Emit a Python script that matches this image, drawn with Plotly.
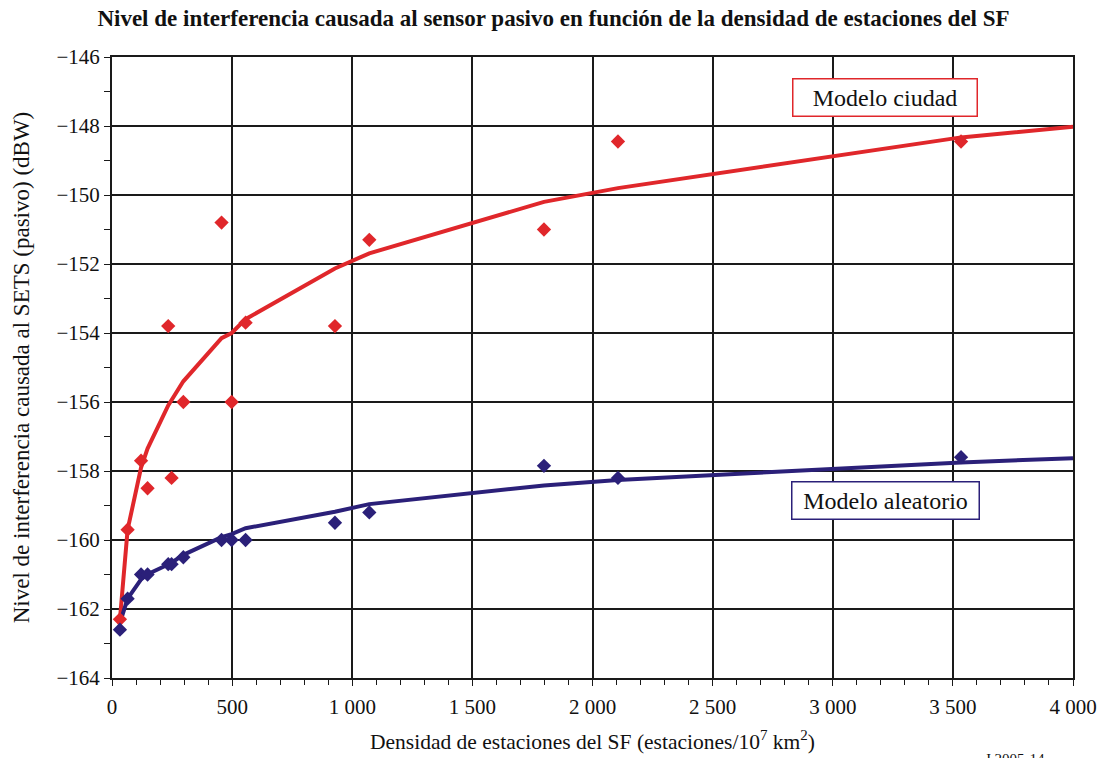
import plotly.graph_objects as go

# Station density (stations per 10^7 km^2) at which interference was computed
densidad = [33, 65, 121, 148, 234, 248, 297, 456, 498, 556, 928, 1071, 1798, 2106, 3534]

# Interference levels (dBW) for each propagation model
ciudad = [-162.3, -159.7, -157.7, -158.5, -153.8, -158.2, -156.0, -150.8, -156.0,
          -153.7, -153.8, -151.3, -151.0, -148.45, -148.45]
aleatorio = [-162.6, -161.7, -161.0, -161.0, -160.7, -160.7, -160.5, -160.0, -160.0,
             -160.0, -159.5, -159.2, -157.85, -158.2, -157.6]

# Trend curves for each model
tendencia_x = [33, 65, 121, 148, 234, 248, 297, 456, 498, 556, 928, 1071, 1798, 2106, 3534, 4000]
tendencia_ciudad = [-162.3, -159.7, -157.9, -157.35, -156.1, -155.95, -155.4, -154.15, -154.0,
                    -153.6, -152.13, -151.69, -150.2, -149.8, -148.33, -148.02]
tendencia_aleatorio = [-162.4, -161.7, -161.14, -160.99, -160.71, -160.66, -160.43, -159.92,
                       -159.83, -159.66, -159.18, -158.96, -158.42, -158.26, -157.75, -157.63]

x_ticks = [0, 500, 1000, 1500, 2000, 2500, 3000, 3500, 4000]
x_labels = ["0", "500", "1 000", "1 500", "2 000", "2 500", "3 000", "3 500", "4 000"]
y_ticks = [-164, -162, -160, -158, -156, -154, -152, -150, -148, -146]
y_labels = ["\u2212164", "\u2212162", "\u2212160", "\u2212158", "\u2212156", "\u2212154",
            "\u2212152", "\u2212150", "\u2212148", "\u2212146"]

ROJO = "#e0272b"
AZUL = "#2b2079"
SERIF = "Liberation Serif, Times New Roman, serif"
INK = "#111111"

fig = go.Figure()

fig.add_trace(go.Scatter(x=tendencia_x, y=tendencia_ciudad, mode="lines",
                         line=dict(color=ROJO, width=4), hoverinfo="skip"))
fig.add_trace(go.Scatter(x=tendencia_x, y=tendencia_aleatorio, mode="lines",
                         line=dict(color=AZUL, width=4), hoverinfo="skip"))
fig.add_trace(go.Scatter(x=densidad, y=ciudad, mode="markers",
                         marker=dict(symbol="diamond", size=11, color=ROJO)))
fig.add_trace(go.Scatter(x=densidad, y=aleatorio, mode="markers",
                         marker=dict(symbol="diamond", size=11, color=AZUL)))

fig.update_layout(
    width=1107, height=758,
    margin=dict(l=112, r=34, t=57, b=80),
    paper_bgcolor="white", plot_bgcolor="white",
    showlegend=False,
    font=dict(family=SERIF, color=INK, size=20),
    title=dict(text="<b>Nivel de interferencia causada al sensor pasivo en función de la densidad de estaciones del SF</b>",
               x=0.5, xanchor="center", y=0.976, yanchor="middle",
               font=dict(family=SERIF, size=23, color=INK)),
    xaxis=dict(range=[0, 4000], tickvals=x_ticks, ticktext=x_labels, automargin=False,
               tickfont=dict(family=SERIF, size=21, color=INK), ticklabelstandoff=3,
               showgrid=True, gridcolor="#1a1a1a", gridwidth=2,
               showline=True, linecolor="#1a1a1a", linewidth=2, mirror=True,
               ticks="outside", ticklen=6, tickwidth=1, tickcolor="#1a1a1a",
               minor=dict(dtick=100, ticks="outside", ticklen=5, tickcolor="#1a1a1a", showgrid=False),
               zeroline=False,
               title=dict(text="Densidad de estaciones del SF (estaciones/10<sup>7</sup> km<sup>2</sup>)",
                          font=dict(family=SERIF, size=21.5, color=INK), standoff=16)),
    yaxis=dict(range=[-164, -146], tickvals=y_ticks, ticktext=y_labels, automargin=False,
               tickfont=dict(family=SERIF, size=21, color=INK),
               showgrid=True, gridcolor="#1a1a1a", gridwidth=2,
               showline=True, linecolor="#1a1a1a", linewidth=2, mirror=True,
               ticks="outside", ticklen=6, tickwidth=1, tickcolor="#1a1a1a",
               minor=dict(dtick=1, ticks="outside", ticklen=6, tickcolor="#1a1a1a", showgrid=False),
               zeroline=False,
               title=dict(text="Nivel de interferencia causada al SETS (pasivo) (dBW)",
                          font=dict(family=SERIF, size=23, color=INK), standoff=20)),
)

fig.add_annotation(x=0.804, y=0.934, xref="paper", yref="paper",
                   text="Modelo ciudad", showarrow=False,
                   font=dict(family=SERIF, size=24, color=INK),
                   width=179, height=32, align="center", valign="middle",
                   bordercolor=ROJO, borderwidth=1.5, borderpad=2, bgcolor="white",
                   xanchor="center", yanchor="middle")
fig.add_annotation(x=0.805, y=0.2866, xref="paper", yref="paper",
                   text="Modelo aleatorio", showarrow=False,
                   font=dict(family=SERIF, size=24, color=INK),
                   width=182, height=32, align="center", valign="middle",
                   bordercolor=AZUL, borderwidth=1.5, borderpad=2, bgcolor="white",
                   xanchor="center", yanchor="middle")
fig.add_annotation(x=0.973, y=-0.131, xref="paper", yref="paper",
                   text="J.2005-14", showarrow=False,
                   font=dict(family=SERIF, size=15, color=INK),
                   xanchor="right", yanchor="middle")

fig.write_html("out.html")
